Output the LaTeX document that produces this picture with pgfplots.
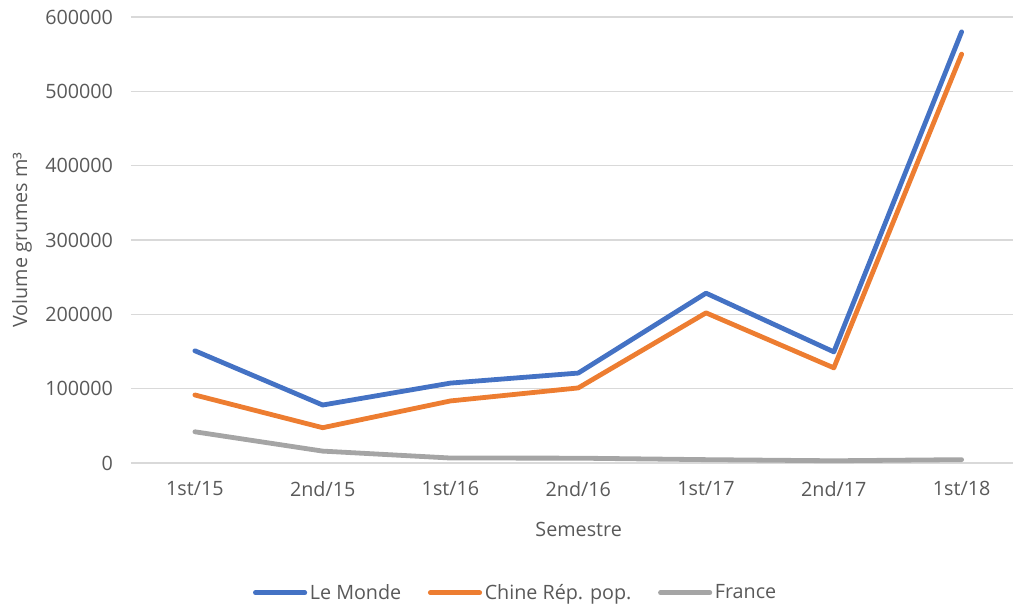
\documentclass[border=0pt]{standalone}
\usepackage{pgfplots}
\pgfplotsset{compat=1.18}
\usepackage{fontspec}
\setmainfont{Open Sans}
\definecolor{cblue}{HTML}{4472C4}
\definecolor{corange}{HTML}{ED7D31}
\definecolor{cgray}{HTML}{A5A5A5}
\definecolor{ctext}{HTML}{595959}
\definecolor{cgrid}{HTML}{D9D9D9}
\begin{document}
\begin{tikzpicture}
\begin{axis}[
  at={(0,0)}, anchor=south west,
  scale only axis,
  width=662.25pt, height=334.5pt,
  xmin=-0.5, xmax=6.41,
  ymin=0, ymax=600000,
  xtick={0,1,2,3,4,5,6},
  xticklabels={1st/15,2nd/15,1st/16,2nd/16,1st/17,2nd/17,1st/18},
  ytick={0,100000,200000,300000,400000,500000,600000},
  scaled y ticks=false,
  /pgf/number format/assume math mode=true,
  yticklabel={\pgfmathprintnumber[fixed,1000 sep={}]{\tick}},
  axis line style={draw=none},
  major tick length=0pt,
  ymajorgrids,
  grid style={cgrid, line width=1.2pt},
  tick label style={font=\fontsize{14.8}{17}\selectfont, text=ctext},
  xticklabel style={yshift=-10pt},
  yticklabel style={xshift=-10pt},
  xlabel={Semestre},
  ylabel={Volume grumes m³},
  label style={font=\fontsize{14.8}{17}\selectfont, text=ctext},
  xlabel style={at={(axis description cs:0.507,-0.148)}, anchor=center},
  ylabel style={at={(axis description cs:-0.1234,0.5)}, anchor=center},
  clip=false,
  legend columns=3,
  legend style={at={(axis description cs:0.436,-0.291)}, anchor=center, draw=none, fill=none,
    font=\fontsize{14.8}{17}\selectfont, text=ctext,
    /tikz/every even column/.append style={column sep=18pt}},
  legend image code/.code={\draw[#1] (0pt,0pt) -- (37pt,0pt);},
  every axis plot/.append style={line width=3.6pt, line cap=round, line join=round},
]
\addplot[cblue] coordinates {(0,151000) (1,78000) (2,107500) (3,121000) (4,228500) (5,149500) (6,580000)};
\addplot[corange] coordinates {(0,91500) (1,47500) (2,83500) (3,101000) (4,202000) (5,128000) (6,550000)};
\addplot[cgray] coordinates {(0,42000) (1,16000) (2,6700) (3,6500) (4,4500) (5,3000) (6,4500)};
\legend{Le Monde, Chine Rép. pop., France}
\end{axis}
\pgfresetboundingbox
\path (-98.25pt,-108pt) rectangle (661.5pt,347.25pt);
\end{tikzpicture}
\end{document}
